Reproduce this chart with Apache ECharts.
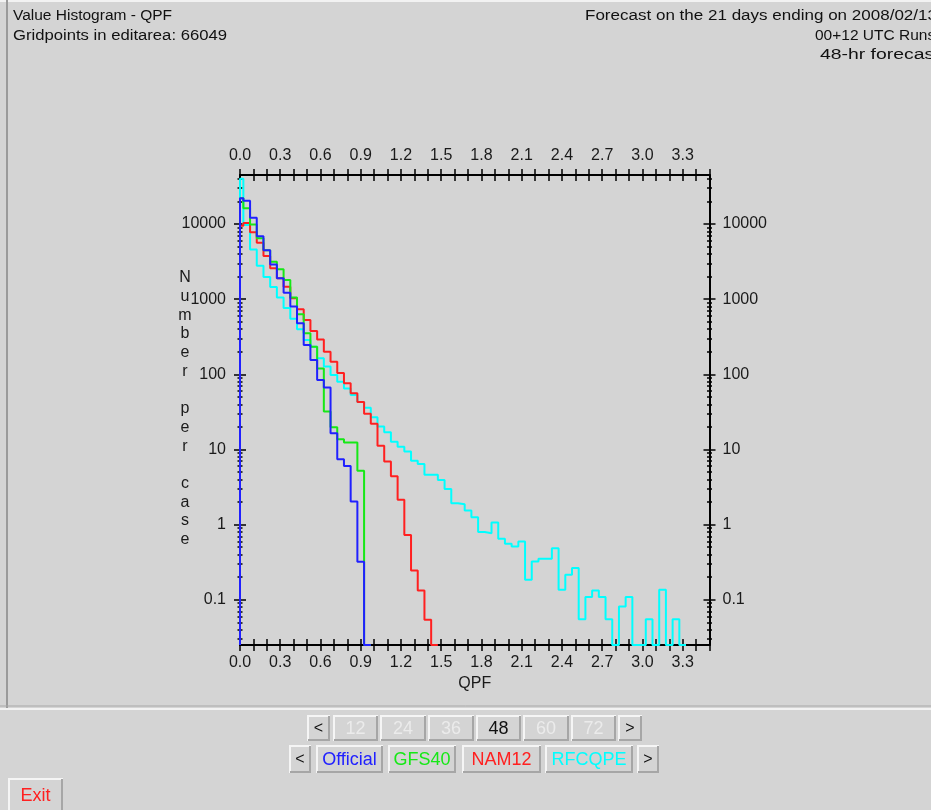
<!DOCTYPE html>
<html><head><meta charset="utf-8">
<script src="https://cdn.jsdelivr.net/npm/echarts@6/dist/echarts.min.js"></script>
<style>html,body{margin:0;padding:0;background:#d4d4d4;overflow:hidden}#c{width:931px;height:810px}</style>
</head><body><div id="c"></div>
<script>
// ---- data: average number of gridpoints per case in each 0.05" QPF bin (bin k centred on k*0.05)
const binWidth = 0.05;
const official = [22000, 20400, 12100, 6900, 4500, 2900, 1900, 1220, 800, 480, 246, 155, 84, 67, 16.5, 7.4, 6.05, 2.03, 0.32, 0];
const gfs40 = [22000, 16200, 9900, 6460, 4500, 3150, 2500, 1800, 1050, 630, 352, 233, 120, 32, 19.8, 13.7, 12.4, 12.4, 5.2, 0];
const nam12 = [9500, 10300, 7760, 5650, 3750, 2580, 1900, 1470, 1030, 735, 529, 378, 290, 200, 147, 104, 76, 56, 43, 30, 22, 11.2, 6.9, 4.4, 2.14, 0.73, 0.245, 0.133, 0.054, 0];
const rfcqpe = [40000, 9700, 4600, 2790, 1970, 1450, 1050, 765, 550, 398, 287, 233, 164, 127, 98, 80, 65, 53, 43, 36, 26.9, 20.2, 17, 12.7, 10.9, 9.4, 7.1, 6.4, 4.6, 4.6, 3.94, 2.97, 1.93, 1.87, 1.54, 1.25, 0.795, 0.77, 1.07, 0.648, 0.556, 0.512, 0.595, 0.185, 0.323, 0.351, 0.351, 0.486, 0.136, 0.215, 0.264, 0.055, 0.109, 0.133, 0.109, 0.055, 0, 0.0815, 0.109, 0, 0, 0.055, 0, 0.136, 0, 0.055, 0];
const seriesNames = ['Official', 'GFS40', 'NAM12', 'RFCQPE'];

// ---- axes
const xMin = 0, xMax = 3.5;
const yMin = 0.025, yMax = 45000;
const xTickValues = [0.0,0.1,0.2,0.3,0.4,0.5,0.6,0.7,0.8,0.9,1.0,1.1,1.2,1.3,1.4,1.5,1.6,1.7,1.8,1.9,2.0,2.1,2.2,2.3,2.4,2.5,2.6,2.7,2.8,2.9,3.0,3.1,3.2,3.3,3.4,3.5];
const xLabelValues = [0.0,0.3,0.6,0.9,1.2,1.5,1.8,2.1,2.4,2.7,3.0,3.3];
const yMajorValues = [0.1, 1, 10, 100, 1000, 10000];
const yMinorValues = [0.03,0.04,0.05,0.06,0.07,0.08,0.09, 0.2,0.3,0.4,0.5,0.6,0.7,0.8,0.9, 2,3,4,5,6,7,8,9, 20,30,40,50,60,70,80,90, 200,300,400,500,600,700,800,900, 2000,3000,4000,5000,6000,7000,8000,9000, 20000,30000,40000];

// ---- texts
const titleLeft = ['Value Histogram - QPF', 'Gridpoints in editarea: 66049'];
const titleRight = ['Forecast on the 21 days ending on 2008/02/13', '00+12 UTC Runs', '48-hr forecast'];
const yAxisName = 'Number per case';
const xAxisName = 'QPF';
const hourButtons = ['<', '12', '24', '36', '48', '60', '72', '>'];
const activeHour = '48';

const FONT = '"Liberation Sans", Arial, sans-serif';
const colors = {Official:'#2020ff', GFS40:'#16e816', NAM12:'#ff2020', RFCQPE:'#00ffff'};

function stepData(vals) {
  const pts = [[0, yMin]];
  vals.forEach((v, k) => {
    const left = Math.max(0, k * binWidth - binWidth / 2);
    pts.push([left, Math.max(v, yMin)]);
  });
  const last = vals.length - 1;
  pts.push([last * binWidth + binWidth / 2, Math.max(vals[last], yMin)]);
  return pts;
}

const dataByName = {Official: official, GFS40: gfs40, NAM12: nam12, RFCQPE: rfcqpe};
const drawOrder = ['RFCQPE', 'NAM12', 'GFS40', 'Official'];
const series = drawOrder.map((n, i) => ({
  name: n, type: 'line', step: 'end', xAxisIndex: 0, yAxisIndex: 0,
  data: stepData(dataByName[n]), showSymbol: false, symbol: 'none',
  lineStyle: {color: colors[n], width: 2}, z: 3 + i, silent: true, animation: false
}));

const tickStyle = {color: '#000', width: 1.5};
function xAx(pos, inside, labels) {
  return {
    type: 'value', position: pos, min: xMin, max: xMax, gridIndex: 0,
    axisLine: {show: labels, onZero: false, lineStyle: {color: '#000', width: 2}},
    axisTick: {show: true, inside: inside, length: 6, customValues: xTickValues, lineStyle: tickStyle},
    axisLabel: {show: labels, customValues: xLabelValues, formatter: v => Number(v).toFixed(1),
      color: '#1a1a1a', fontSize: 16, fontFamily: FONT, margin: pos === 'top' ? 11 : 10},
    splitLine: {show: false},
    name: (labels && pos === 'bottom') ? xAxisName : '', nameLocation: 'middle', nameGap: 28,
    nameTextStyle: {color: '#1a1a1a', fontSize: 16, fontFamily: FONT}
  };
}
function yAx(pos, inside, major, labels) {
  return {
    type: 'log', logBase: 10, position: pos, min: yMin, max: yMax, gridIndex: 0,
    axisLine: {show: labels, lineStyle: {color: '#000', width: 2}},
    axisTick: {show: true, inside: inside, length: major ? 6 : 2.5,
      customValues: major ? yMajorValues : yMinorValues, lineStyle: tickStyle},
    axisLabel: {show: labels, customValues: yMajorValues, formatter: v => String(+Number(v).toPrecision(6)),
      color: '#1a1a1a', fontSize: 16, fontFamily: FONT, margin: pos === 'left' ? 14 : 13},
    splitLine: {show: false}, minorTick: {show: false}
  };
}

function button(x, y, w, h, label, color, fs) {
  return [
    {type: 'rect', shape: {x: x, y: y, width: w, height: h}, style: {fill: '#d4d4d4'}, silent: true},
    {type: 'polyline', shape: {points: [[x + 1, y + h], [x + 1, y + 1], [x + w, y + 1]]}, style: {stroke: '#f5f5f5', lineWidth: 2, fill: null}, silent: true},
    {type: 'polyline', shape: {points: [[x + w - 1, y + 1], [x + w - 1, y + h - 1], [x + 1, y + h - 1]]}, style: {stroke: '#a6a6a6', lineWidth: 2, fill: null}, silent: true},
    {type: 'text', x: x + w / 2, y: y + h / 2 + 1, style: {text: label, fill: color, font: (fs || 18) + 'px ' + FONT, align: 'center', verticalAlign: 'middle', textAlign: 'center', textVerticalAlign: 'middle'}, silent: true}
  ];
}

function headText(t, x, y, sx) {
  return {type: 'text', x: x, y: y, scaleX: sx, scaleY: 1,
    style: {text: t, fill: '#111', font: '15.5px ' + FONT, align: 'left', verticalAlign: 'middle', textAlign: 'left', textVerticalAlign: 'middle'}, silent: true};
}

const graphics = [];
// panel frame
graphics.push({type: 'line', shape: {x1: 0, y1: 1, x2: 931, y2: 1}, style: {stroke: '#f2f2f2', lineWidth: 2}, silent: true});
graphics.push({type: 'line', shape: {x1: 7, y1: 0, x2: 7, y2: 709}, style: {stroke: '#9a9a9a', lineWidth: 2}, silent: true});
graphics.push({type: 'line', shape: {x1: 0, y1: 709, x2: 931, y2: 709}, style: {stroke: '#f2f2f2', lineWidth: 2}, silent: true});
graphics.push({type: 'line', shape: {x1: 0, y1: 706, x2: 931, y2: 706}, style: {stroke: '#a8a8a8', lineWidth: 1}, silent: true});
// titles (stretched horizontally to the width of the original bitmap font)
graphics.push(headText(titleLeft[0], 13, 16, 1.0));
graphics.push(headText(titleLeft[1], 13, 36, 1.075));
graphics.push(headText(titleRight[0], 585, 16, 1.098));
graphics.push(headText(titleRight[1], 815, 36, 1.0));
graphics.push(headText(titleRight[2], 820, 55, 1.25));
// stacked y axis name
graphics.push({type: 'text', x: 185, y: 268.6,
  style: {text: yAxisName.split('').join('\n'), fill: '#1a1a1a', font: '16px ' + FONT, lineHeight: 18.7,
    align: 'center', verticalAlign: 'top', textAlign: 'center', textVerticalAlign: 'top'}, silent: true});
// hour buttons
const hourX = [307, 333, 380, 428, 476, 523, 571, 618];
const hourW = [23, 45, 46, 46, 45, 46, 45, 24];
hourButtons.forEach((b, i) => {
  const isArrow = b === '<' || b === '>';
  const col = isArrow ? '#111' : (b === activeHour ? '#111' : '#ebebeb');
  graphics.push(...button(hourX[i], 715, hourW[i], 26, b, col, isArrow ? 16 : 18));
});
// model buttons
graphics.push(...button(289, 745, 22, 28, '<', '#111', 16));
const modelX = [316, 388, 462, 545];
const modelW = [67, 68, 79, 88];
seriesNames.forEach((n, i) => graphics.push(...button(modelX[i], 745, modelW[i], 28, n, colors[n], 18)));
graphics.push(...button(637, 745, 22, 28, '>', '#111', 16));
// exit
graphics.push(...button(8, 778, 55, 34, 'Exit', '#ff2020', 18));

const chart = echarts.init(document.getElementById('c'), null, {renderer: 'canvas'});
chart.setOption({
  backgroundColor: '#d4d4d4',
  animation: false,
  grid: {left: 240, top: 175, width: 469.5, height: 470, containLabel: false, outerBoundsMode: 'none'},
  xAxis: [xAx('bottom', false, true), xAx('bottom', true, false), xAx('top', false, true), xAx('top', true, false)],
  yAxis: [yAx('left', false, true, true), yAx('left', true, true, false), yAx('left', false, false, false), yAx('left', true, false, false),
          yAx('right', false, true, true), yAx('right', true, true, false), yAx('right', false, false, false), yAx('right', true, false, false)],
  series: series,
  graphic: {elements: graphics}
});
</script></body></html>
